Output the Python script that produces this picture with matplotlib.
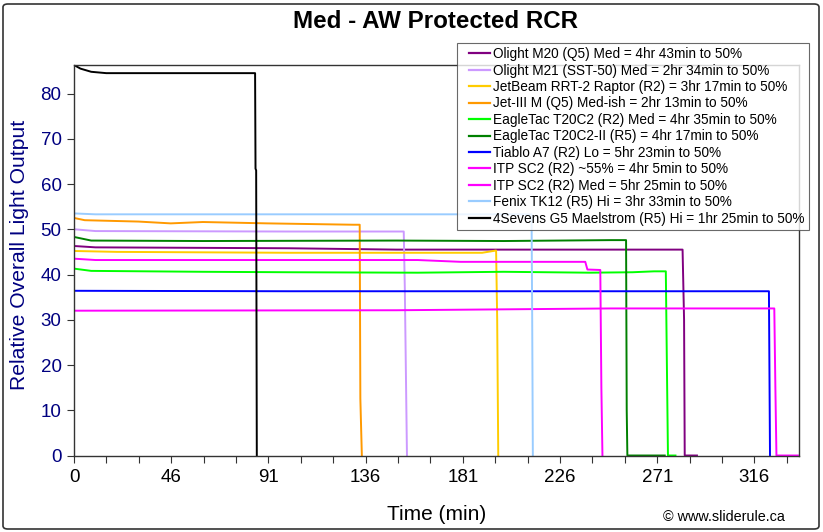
import matplotlib
matplotlib.use("Agg")
import matplotlib.pyplot as plt
from matplotlib.patches import FancyBboxPatch
from matplotlib.lines import Line2D
from matplotlib.legend_handler import HandlerLine2D
import numpy as np

plt.rcParams['font.family'] = ['Liberation Sans', 'DejaVu Sans']

# ----------------------------------------------------------------------------
# Data (time in min, relative output)
# ----------------------------------------------------------------------------
labels = [
    'Olight M20 (Q5) Med = 4hr 43min to 50%',
    'Olight M21 (SST-50) Med = 2hr 34min to 50%',
    'JetBeam RRT-2 Raptor (R2) = 3hr 17min to 50%',
    'Jet-III M (Q5) Med-ish = 2hr 13min to 50%',
    'EagleTac T20C2 (R2) Med = 4hr 35min to 50%',
    'EagleTac T20C2-II (R5) = 4hr 17min to 50%',
    'Tiablo A7 (R2) Lo = 5hr 23min to 50%',
    'ITP SC2 (R2) ~55% = 4hr 5min to 50%',
    'ITP SC2 (R2) Med = 5hr 25min to 50%',
    'Fenix TK12 (R5) Hi = 3hr 33min to 50%',
    '4Sevens G5 Maelstrom (R5) Hi = 1hr 25min to 50%',
]
colors = ['#800080', '#CC99FF', '#FFCC00', '#FF9900', '#00FF00', '#008000',
          '#0000FF', '#FF00FF', '#FF00FF', '#99CCFF', '#000000']

m20_t = [0, 10, 100, 150, 283.3, 284, 284.3, 290]
m20_v = [46.3, 46.0, 45.8, 45.5, 45.5, 30, 0, 0]

m21_t = [0, 10, 100, 153.5, 154, 155]
m21_v = [50.0, 49.6, 49.5, 49.5, 37, 0]

rrt2_t = [0, 20, 100, 190, 196.5, 197, 197.5]
rrt2_v = [45.2, 45.0, 44.8, 44.8, 45.3, 30, 0]

jet3_t = [0, 5, 30, 45, 60, 90, 130, 133, 133.3, 134]
jet3_v = [52.5, 52.0, 51.7, 51.3, 51.6, 51.3, 51.0, 51.0, 12.6, 0]

t20c2_t = [0, 8, 60, 100, 160, 200, 240, 260, 270, 275.5, 276, 276.5, 280]
t20c2_v = [41.3, 40.8, 40.6, 40.5, 40.4, 40.6, 40.4, 40.5, 40.7, 40.7, 20, 0, 0]

t20c2ii_t = [0, 8, 60, 150, 200, 250, 257, 257.3, 257.6, 275]
t20c2ii_v = [48.3, 47.5, 47.4, 47.5, 47.4, 47.6, 47.6, 10, 0, 0]

a7_t = [0, 100, 323.5, 324]
a7_v = [36.4, 36.3, 36.3, 0]

sc2a_t = [0, 10, 160, 180, 238, 239, 245, 245.5, 246]
sc2a_v = [43.5, 43.2, 43.2, 42.8, 42.8, 41.1, 41.0, 15, 0]

sc2b_t = [0, 150, 200, 250, 326, 326.5, 327, 337]
sc2b_v = [32.0, 32.1, 32.3, 32.5, 32.5, 15, 0, 0]

tk12_t = [0, 10, 213, 213.3, 213.6]
tk12_v = [53.5, 53.3, 53.3, 30, 0]

g5_t = [0, 3, 8, 15, 84.3, 84.5, 84.8, 85.1]
g5_v = [86.3, 85.5, 84.8, 84.5, 84.5, 63.4, 63.0, 0]

series_t = [m20_t, m21_t, rrt2_t, jet3_t, t20c2_t, t20c2ii_t, a7_t, sc2a_t, sc2b_t, tk12_t, g5_t]
series_v = [m20_v, m21_v, rrt2_v, jet3_v, t20c2_v, t20c2ii_v, a7_v, sc2a_v, sc2b_v, tk12_v, g5_v]

x_tick_labels = ['0', '46', '91', '136', '181', '226', '271', '316']
y_ticks = [0, 10, 20, 30, 40, 50, 60, 70, 80]

# ----------------------------------------------------------------------------
# Plot
# ----------------------------------------------------------------------------
W, H = 823, 532
fig = plt.figure(figsize=(W / 100, H / 100), dpi=100)
ax = fig.add_axes([74 / W, 1 - 455.5 / H, (799 - 74) / W, (455.5 - 65) / H])

for t, v, c, lab in zip(series_t, series_v, colors, labels):
    ax.plot(t, v, color=c, linewidth=1.4, label=lab)

x_step = 45.25
ax.set_xlim(0, 337.5)
ax.set_ylim(0, 86.3)
ax.set_xticks([i * x_step for i in range(len(x_tick_labels))])
ax.set_xticklabels(x_tick_labels, fontsize=13.5)
ax.set_xticks(np.arange(0, 337.5, x_step / 3), minor=True)
ax.set_yticks(y_ticks)
ax.set_yticklabels([str(y) for y in y_ticks], fontsize=13.5, color='#000080')
ax.tick_params(axis='both', which='both', direction='out', length=5, width=0.8, color='#333333')
ax.tick_params(axis='x', pad=5)
ax.tick_params(axis='y', pad=4)
for sp in ax.spines.values():
    sp.set_linewidth(1.0)
    sp.set_color('#333333')

ax.set_xlabel('Time (min)', fontsize=15)
ax.set_ylabel('Relative Overall Light Output', fontsize=15.2, color='#000080')
ax.yaxis.set_label_coords((29 - 74) / (799 - 74), (455.5 - 255) / (455.5 - 65))
ax.xaxis.set_label_coords(0.5, -50 / (455.5 - 65))

fig.text(436 / W, 1 - 21 / H, 'Med - AW Protected RCR', fontsize=17.4, fontweight='bold',
         ha='center', va='center')
fig.text(785 / W, 1 - 517 / H, '\u00a9 www.sliderule.ca', fontsize=10.4,
         ha='right', va='center')

leg = fig.legend(loc='upper left', bbox_to_anchor=(457 / W, 1 - 43 / H), fontsize=9.8,
                 frameon=True, fancybox=False, shadow=False, edgecolor='#444444',
                 handlelength=2.15, handletextpad=0.2, labelspacing=0.18,
                 borderpad=0.3, borderaxespad=0,
                 handler_map={Line2D: HandlerLine2D(xpad=0.55)})
leg.get_frame().set_linewidth(0.8)
for ln in leg.get_lines():
    ln.set_linewidth(1.6)

# outer chart border
fig.patches.append(FancyBboxPatch((3 / W, 3 / H), 1 - 7 / W, 1 - 7 / H,
                                  boxstyle='round,pad=0,rounding_size=0.006',
                                  transform=fig.transFigure, fill=False,
                                  edgecolor='#333333', linewidth=1.2))

fig.savefig('out.png', dpi=100)
